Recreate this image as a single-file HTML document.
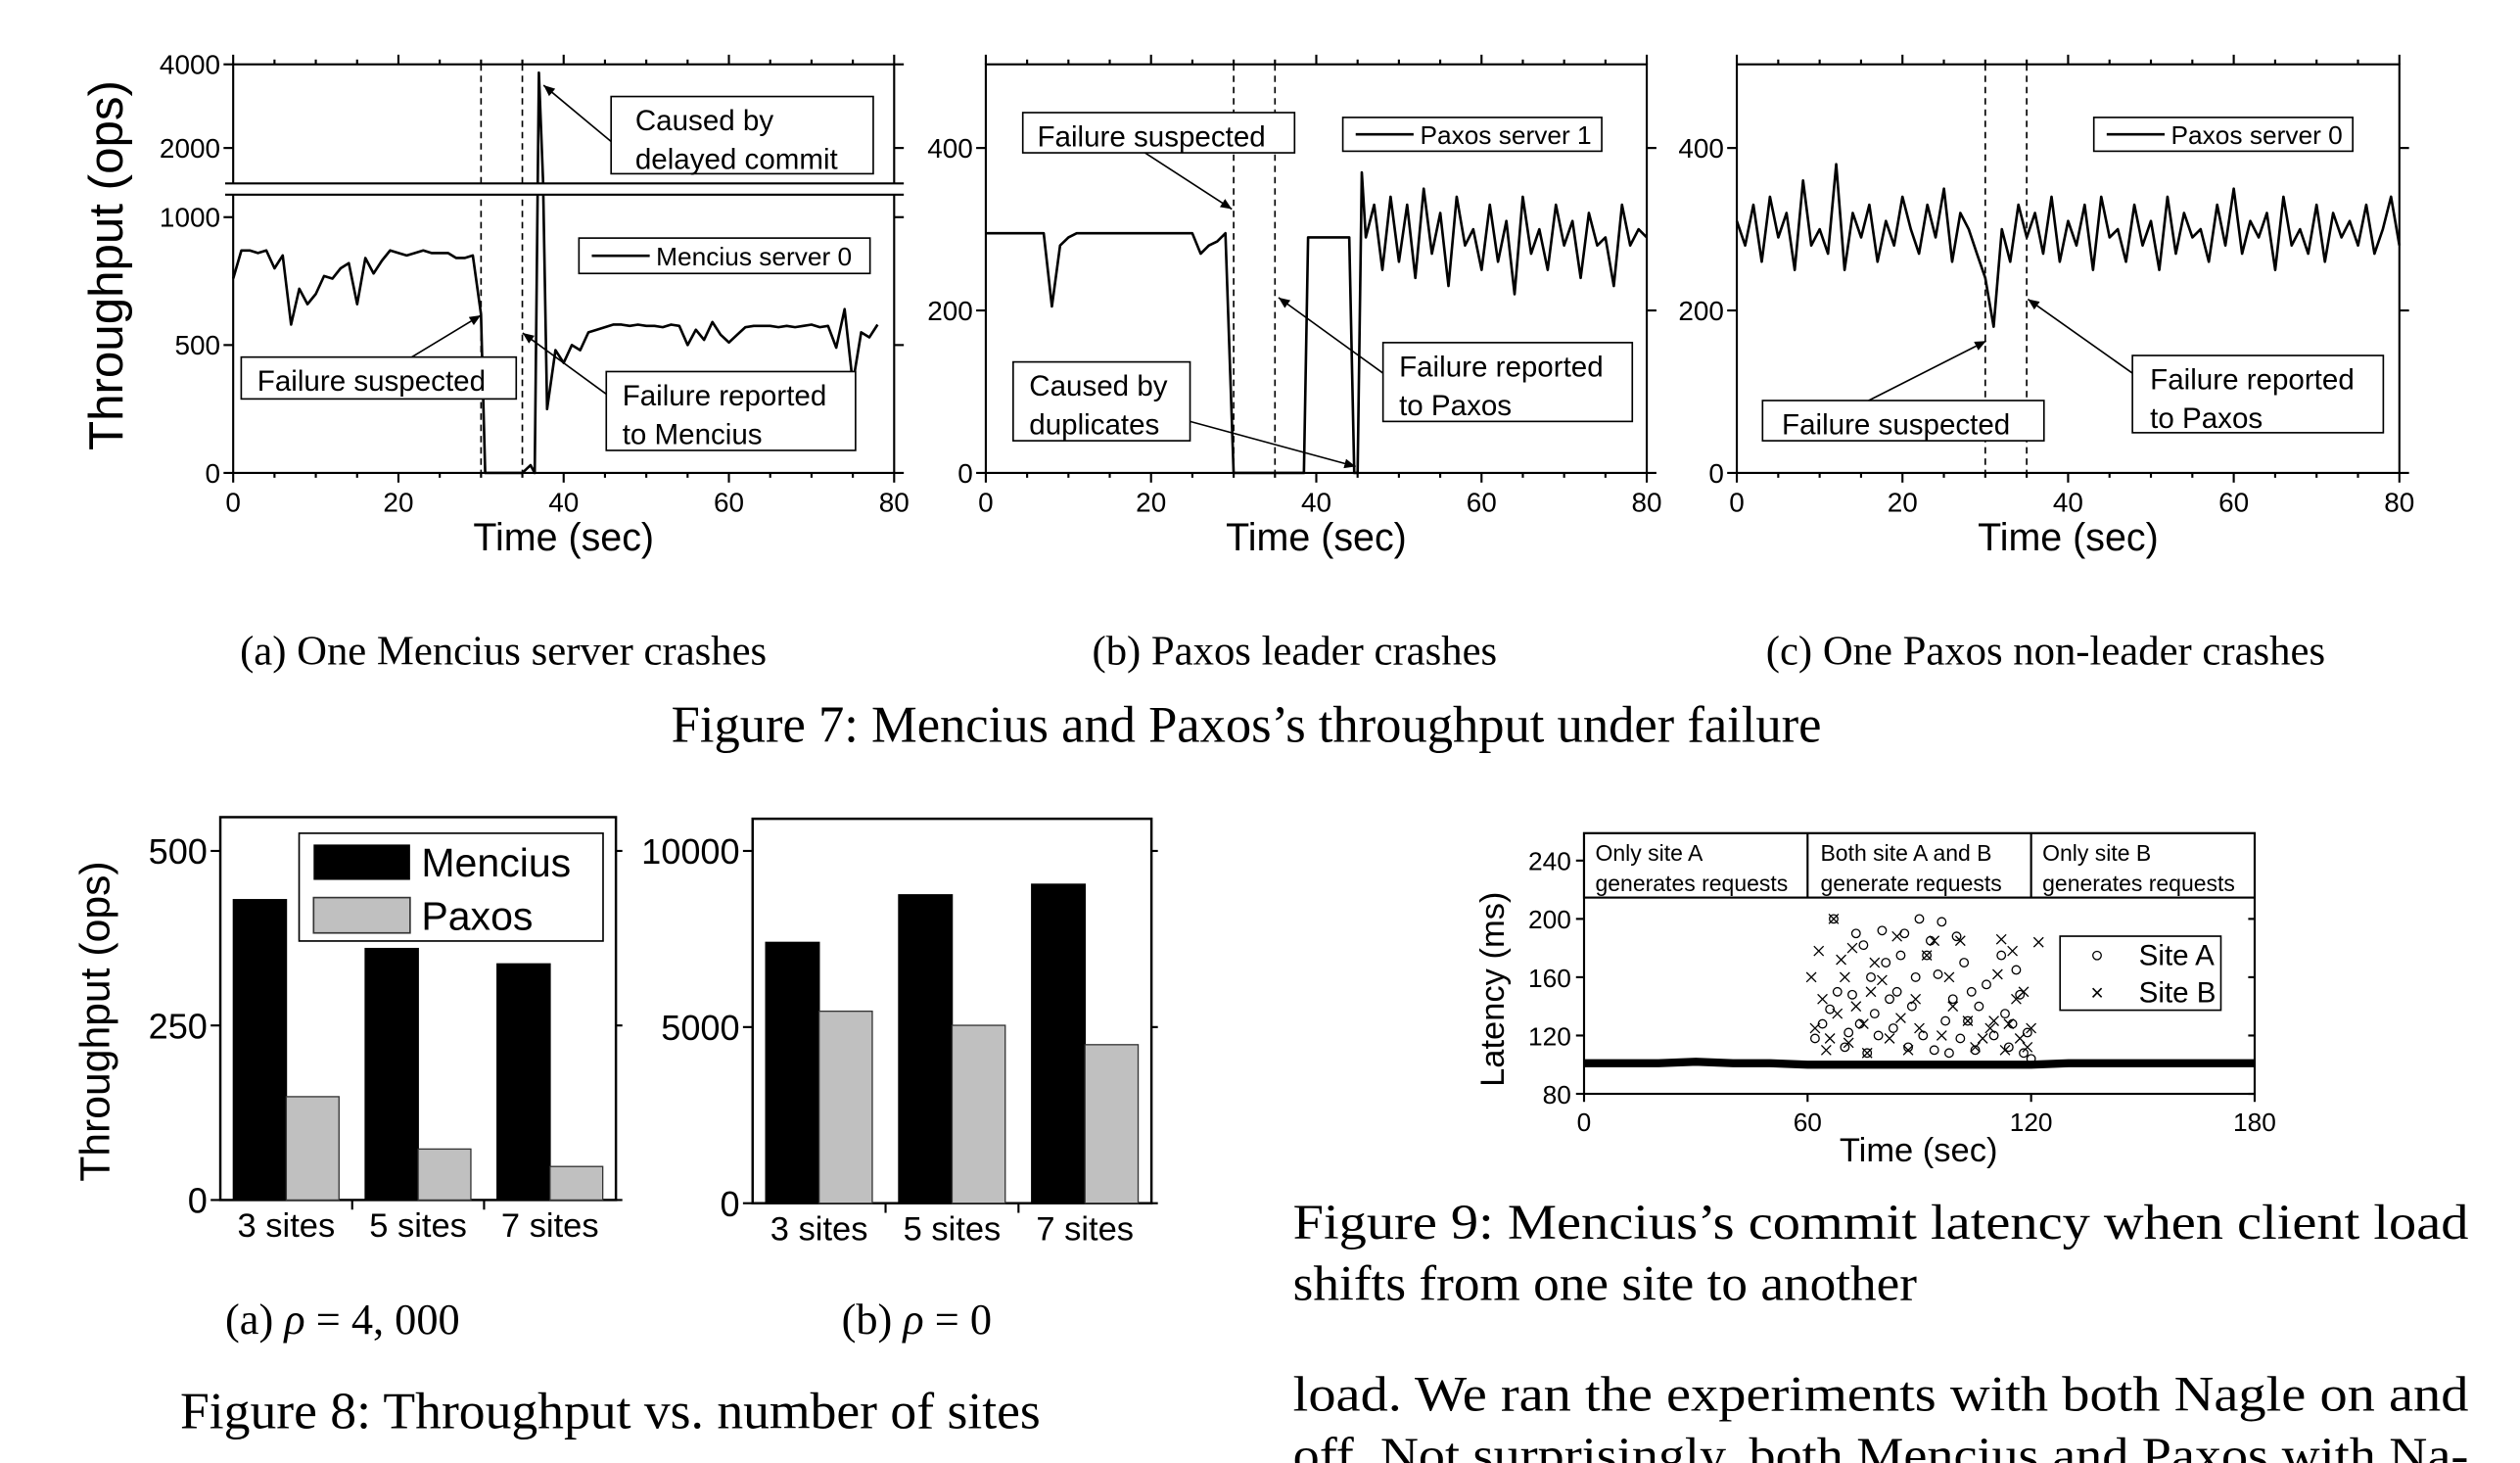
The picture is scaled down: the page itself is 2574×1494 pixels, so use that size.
<!DOCTYPE html>
<html><head><meta charset="utf-8"><style>
html,body{margin:0;padding:0;background:#fff;}
svg{display:block;}
.t{font-family:"Liberation Sans",sans-serif;fill:#000;}
.s{font-family:"Liberation Serif",serif;fill:#000;}
</style></head><body>
<svg id="root" xmlns="http://www.w3.org/2000/svg" width="2574" height="1494" viewBox="0 0 1567 909.5" preserveAspectRatio="none">
<defs><marker id="ah" markerWidth="8" markerHeight="8" refX="7" refY="4" orient="auto"><path d="M0,1 L7,4 L0,7 z" fill="#000"/></marker></defs>
<g id="g"></g>
<text class="s" x="313" y="413" font-size="26" text-anchor="middle">(a) One Mencius server crashes</text>
<text class="s" x="805" y="413" font-size="26" text-anchor="middle">(b) Paxos leader crashes</text>
<text class="s" x="1272" y="413" font-size="26" text-anchor="middle">(c) One Paxos non-leader crashes</text>
<text class="s" x="775" y="461" font-size="32" text-anchor="middle">Figure 7: Mencius and Paxos’s throughput under failure</text>
<text class="s" x="213" y="829" font-size="27" text-anchor="middle">(a) <tspan font-style="italic">ρ</tspan> = 4, 000</text>
<text class="s" x="570" y="829" font-size="27" text-anchor="middle">(b) <tspan font-style="italic">ρ</tspan> = 0</text>
<text class="s" x="112" y="888" font-size="32" textLength="535" lengthAdjust="spacingAndGlyphs">Figure 8: Throughput vs. number of sites</text>
<text class="s" x="804" y="770" font-size="31" textLength="731" lengthAdjust="spacingAndGlyphs">Figure 9:  Mencius’s commit latency when client load</text>
<text class="s" x="804" y="808" font-size="31" textLength="388" lengthAdjust="spacingAndGlyphs">shifts from one site to another</text>
<text class="s" x="804" y="877" font-size="31" textLength="731" lengthAdjust="spacingAndGlyphs">load.  We ran the experiments with both Nagle on and</text>
<text class="s" x="804" y="915" font-size="31" textLength="731" lengthAdjust="spacingAndGlyphs">off. Not surprisingly, both Mencius and Paxos with Na-</text>
</svg>
<script>
// ---- Figure 7 data (time step 1s, 0..80) ----
const timeA=[0,1,2,3,4,5,6,7,8,9,10,11,12,13,14,15,16,17,18,19,20,21,22,23,24,25,26,27,28,29,30,30.5,31,32,33,34,35,36,36.5,37,37.5,38,39,40,41,42,43,44,45,46,47,48,49,50,51,52,53,54,55,56,57,58,59,60,61,62,63,64,65,66,67,68,69,70,71,72,73,74,75,76,77,78,79,80];
const menciusServer0=[760,870,870,860,870,800,850,580,720,660,700,770,760,800,820,660,840,780,830,870,860,850,860,870,860,860,860,840,840,850,620,0,0,0,0,0,0,30,0,3800,1200,250,480,430,500,480,550,560,570,580,580,575,580,575,575,570,580,575,500,560,520,590,540,510,540,570,575,575,575,570,575,570,575,580,570,575,490,640,350,550,530,580];
const timeB=[0,1,2,3,4,5,6,7,8,9,10,11,12,13,14,15,16,17,18,19,20,21,22,23,24,25,26,27,28,29,30,31,32,33,34,35,36,37,38,38.5,39,40,41,42,43,44,44.6,45,45.5,46,47,48,49,50,51,52,53,54,55,56,57,58,59,60,61,62,63,64,65,66,67,68,69,70,71,72,73,74,75,76,77,78,79,80];
const paxosServer1=[295,295,295,295,295,295,295,295,205,280,290,295,295,295,295,295,295,295,295,295,295,295,295,295,295,295,270,280,285,295,0,0,0,0,0,0,0,0,0,0,290,290,290,290,290,290,0,0,370,290,330,250,340,260,330,240,350,270,320,230,340,280,300,250,330,260,310,220,340,270,300,250,330,280,310,240,320,280,290,230,330,280,300,290,285];
const timeC=[0,1,2,3,4,5,6,7,8,9,10,11,12,13,14,15,16,17,18,19,20,21,22,23,24,25,26,27,28,29,30,31,32,33,34,35,36,37,38,39,40,41,42,43,44,45,46,47,48,49,50,51,52,53,54,55,56,57,58,59,60,61,62,63,64,65,66,67,68,69,70,71,72,73,74,75,76,77,78,79,80];
const paxosServer0=[310,280,330,260,340,290,320,250,360,280,300,270,380,250,320,290,330,260,310,280,340,300,270,330,290,350,260,320,300,270,240,180,300,260,330,290,320,270,340,260,310,280,330,250,340,290,300,260,330,280,310,250,340,270,320,290,300,260,330,280,350,270,310,290,320,250,340,280,300,270,330,260,320,290,310,280,330,270,300,340,280];
// ---- Figure 8 data ----
const siteCategories=["3 sites","5 sites","7 sites"];
const menciusRho4000=[430,360,338];
const paxosRho4000=[148,73,48];
const menciusRho0=[7400,8750,9050];
const paxosRho0=[5450,5050,4500];
const ticks8a=[0,250,500];
const ticks8b=[0,5000,10000];
// ---- Figure 9 data ----
const baselineTime=[0,10,20,30,40,50,60,70,80,90,100,110,120,130,140,150,160,170,180];
const baselineLatency=[101,101,101,102,101,101,100,100,100,100,100,100,100,101,101,101,101,101,101];
const siteATime=[62,64,66,67,68,70,71,72,73,74,75,76,77,78,79,80,81,82,83,84,85,86,87,88,89,90,91,92,93,94,95,96,97,98,99,100,101,102,103,104,105,106,108,110,112,113,114,115,116,117,118,119,120];
const siteALatency=[118,128,138,200,150,112,122,148,190,128,182,108,160,135,120,192,170,145,125,150,175,190,112,140,160,200,120,175,185,110,162,198,130,108,145,188,118,170,130,150,110,140,155,120,175,135,112,128,165,148,108,122,104];
const siteBTime=[61,62,63,64,65,66,67,68,69,70,71,72,73,75,76,77,78,80,82,84,85,87,89,90,92,94,96,98,99,101,103,105,107,109,110,111,112,113,114,115,116,117,118,119,120,122];
const siteBLatency=[160,125,178,145,110,118,200,135,172,160,115,180,140,128,108,150,170,158,118,188,132,110,145,125,175,185,120,160,140,185,130,112,118,125,130,162,186,110,128,178,145,118,150,112,125,184];

const NS="http://www.w3.org/2000/svg";
const G=document.getElementById('g');
function el(tag,attrs,parent,txt){const e=document.createElementNS(NS,tag);for(const k in attrs)e.setAttribute(k,attrs[k]);if(txt!==undefined)e.textContent=txt;(parent||G).appendChild(e);return e;}
function line(x1,y1,x2,y2,p,extra){const o={x1:x1,y1:y1,x2:x2,y2:y2,stroke:'#000','stroke-width':1.3};Object.assign(o,extra||{});return el('line',o,p);}

function fig7Panel(name,x0,x1,yTop,yBot,yFn,yTicks,times,vals){
  const g=el('g',{});
  
  
  const xf=t=>x0+(x1-x0)*t/80;
  el('rect',{x:x0,y:yTop,width:x1-x0,height:yBot-yTop,fill:'none',stroke:'#000','stroke-width':1.3},g);
  for(let t=0;t<=80;t+=5){const X=xf(t);const major=t%20===0;
    line(X,yBot,X,yBot+(major?6:3),g);line(X,yTop,X,yTop-(major?6:3),g);
    if(major){const lb=el('text',{class:'t',x:X,y:yBot+24,'font-size':17,'text-anchor':'middle'},g,String(t));
      }}
  yTicks.forEach(v=>{const Y=yFn(v);line(x0-6,Y,x0,Y,g);line(x1,Y,x1+6,Y,g);
    const lb=el('text',{class:'t',x:x0-8,y:Y+6,'font-size':17,'text-anchor':'end'},g,String(v));
    });
  [30,35].forEach(t=>{const d=line(xf(t),yTop,xf(t),yBot,g,{'stroke-width':1,'stroke-dasharray':'4,3'});
    });
  const pts=times.map((t,i)=>xf(t).toFixed(1)+','+yFn(vals[i]).toFixed(1)).join(' ');
  const pl=el('polyline',{points:pts,fill:'none',stroke:'#000','stroke-width':1.6,'stroke-linejoin':'round'},g);
  
  const xt=el('text',{class:'t',x:(x0+x1)/2,y:yBot+48,'font-size':24,'text-anchor':'middle'},g,'Time (sec)');
  
  return g;
}
function box(g,name,x,y,w,h,lines,fs,lx){
  const b=el('g',{},g);
  
  
  el('rect',{x:x,y:y,width:w,height:h,fill:'#fff',stroke:'#000','stroke-width':1},b);
  lines.forEach((s,i)=>el('text',{class:'t',x:lx||x+15,y:y+fs+3+i*(fs+6),'font-size':fs},b,s));
}
function arrow(g,x1,y1,x2,y2){const a=line(x1,y1,x2,y2,g,{'stroke-width':1,'marker-end':'url(#ah)'});
  }
function legendLine(g,name,x,y,w,h,label){
  const b=el('g',{},g);
  
  
  el('rect',{x:x,y:y,width:w,height:h,fill:'#fff',stroke:'#000','stroke-width':1},b);
  line(x+8,y+h/2,x+44,y+h/2,b,{'stroke-width':1.6});
  el('text',{class:'t',x:x+48,y:y+h/2+6,'font-size':16},b,label);
}

const yA=v=> v<=1100 ? 294-(v/1000)*(294-135) : 40+(4000-v)*0.026;
const gA=fig7Panel('chart-7a-mencius-crash',145,556,40,294,yA,[0,500,1000,2000,4000],timeA,menciusServer0);
el('rect',{x:135,y:114,width:430,height:7,fill:'#fff'},gA);
line(140,114,562,114,gA);line(140,121,562,121,gA);
const ya=el('text',{class:'t','font-size':30,'text-anchor':'middle',transform:'translate(76,165) rotate(-90)'},gA,'Throughput (ops)');

box(gA,'annotation-delayed-commit',380,60,163,48,['Caused by','delayed commit'],18);
arrow(gA,380,88,338,53);
legendLine(gA,'legend-mencius-server-0',360,148,181,22,'Mencius server 0');
box(gA,'annotation-failure-suspected',150,222,171,26,['Failure suspected'],18,160);
arrow(gA,256,222,299,196);
box(gA,'annotation-failure-reported',377,231,155,49,['Failure reported','to Mencius'],18,387);
arrow(gA,377,245,325,207);

const yB=v=>294-v*(294-92)/400;
const gB=fig7Panel('chart-7b-paxos-leader-crash',613,1024,40,294,yB,[0,200,400],timeB,paxosServer1);
box(gB,'annotation-failure-suspected',636,70,169,25,['Failure suspected'],18,645);
arrow(gB,712,95,766,130);
legendLine(gB,'legend-paxos-server-1',835,73,161,21,'Paxos server 1');
box(gB,'annotation-duplicates',630,225,110,49,['Caused by','duplicates'],18,640);
arrow(gB,740,262,843,290);
box(gB,'annotation-failure-reported',860,213,155,49,['Failure reported','to Paxos'],18,870);
arrow(gB,860,232,795,185);

const gC=fig7Panel('chart-7c-paxos-nonleader-crash',1080,1492,40,294,yB,[0,200,400],timeC,paxosServer0);
legendLine(gC,'legend-paxos-server-0',1302,73,161,21,'Paxos server 0');
box(gC,'annotation-failure-suspected',1096,249,175,25,['Failure suspected'],18,1108);
arrow(gC,1162,249,1235,212);
box(gC,'annotation-failure-reported',1326,221,156,48,['Failure reported','to Paxos'],18,1337);
arrow(gC,1326,232,1261,186);

function fig8Panel(name,x0,x1,yTop,y0,maxV,pxMax,ticks,m,p,legend){
  const g=el('g',{});
  
  
  const yf=v=>y0-v*pxMax/maxV;
  el('rect',{x:x0,y:yTop,width:x1-x0,height:y0-yTop,fill:'none',stroke:'#000','stroke-width':1.5},g);
  ticks.forEach(v=>{const Y=yf(v);line(x0-6,Y,x0,Y,g);line(x1,Y,x1+4,Y,g);
    const lb=el('text',{class:'t',x:x0-8,y:Y+8,'font-size':22,'text-anchor':'end'},g,String(v));
    });
  const gw=(x1-x0)/siteCategories.length;
  siteCategories.forEach((c,i)=>{
    const cx=x0+gw*i+gw/2, bw=gw*0.4;
    const b1=el('rect',{x:cx-bw,y:yf(m[i]),width:bw,height:y0-yf(m[i]),fill:'#000',stroke:'#000'},g);
    
    const b2=el('rect',{x:cx,y:yf(p[i]),width:bw,height:y0-yf(p[i]),fill:'#c0c0c0',stroke:'#333','stroke-width':0.8},g);
    
    if(i>0)line(x0+gw*i,y0,x0+gw*i,y0+6,g);
    const lb=el('text',{class:'t',x:cx,y:y0+23,'font-size':21,'text-anchor':'middle'},g,c);
    
  });
  if(legend){const lg=el('g',{},g);
    
    
    el('rect',{x:186,y:518,width:189,height:67,fill:'#fff',stroke:'#000'},lg);
    el('rect',{x:195,y:525,width:60,height:22,fill:'#000'},lg);
    el('rect',{x:195,y:558,width:60,height:22,fill:'#c0c0c0',stroke:'#333'},lg);
    el('text',{class:'t',x:262,y:545,'font-size':25},lg,'Mencius');
    el('text',{class:'t',x:262,y:578,'font-size':25},lg,'Paxos');}
  return g;
}
const g8a=fig8Panel('chart-8a-rho-4000',137,383,508,746,500,217,ticks8a,menciusRho4000,paxosRho4000,true);
const y8=el('text',{class:'t','font-size':26,'text-anchor':'middle',transform:'translate(68,635) rotate(-90)'},g8a,'Throughput (ops)');

fig8Panel('chart-8b-rho-0',468,716,509,748,10000,219,ticks8b,menciusRho0,paxosRho0,false);

(function(){
  const g=el('g',{});
  
  
  const x0=985,x1=1402,yTop=518,y80=680;
  const xf=t=>x0+(x1-x0)*t/180, yf=v=>y80-(v-80)*(680-535)/160;
  el('rect',{x:x0,y:yTop,width:x1-x0,height:y80-yTop,fill:'none',stroke:'#000','stroke-width':1.3},g);
  [80,120,160,200,240].forEach(v=>{const Y=yf(v);line(x0-5,Y,x0,Y,g);line(x1,Y,x1-4,Y,g);
    const lb=el('text',{class:'t',x:x0-8,y:Y+6,'font-size':16,'text-anchor':'end'},g,String(v));
    });
  [0,60,120,180].forEach(t=>{const X=xf(t);line(X,y80,X,y80+5,g);
    const lb=el('text',{class:'t',x:X,y:y80+23,'font-size':16,'text-anchor':'middle'},g,String(t));
    });
  const bp=baselineTime.map((t,i)=>xf(t)+','+yf(baselineLatency[i])).join(' ');
  const bl=el('polyline',{points:bp,fill:'none',stroke:'#000','stroke-width':5},g);
  
  siteATime.forEach((t,i)=>{const c=el('circle',{cx:xf(t),cy:yf(siteALatency[i]),r:2.6,fill:'none',stroke:'#000','stroke-width':0.8},g);
    });
  siteBTime.forEach((t,i)=>{const X=xf(t),Y=yf(siteBLatency[i]);
    const p=el('path',{d:`M${X-3},${Y-3}L${X+3},${Y+3}M${X-3},${Y+3}L${X+3},${Y-3}`,stroke:'#000','stroke-width':0.8},g);
    });
  const hy=558;
  el('rect',{x:x0,y:yTop,width:x1-x0,height:hy-yTop,fill:'#fff',stroke:'#000','stroke-width':1.3},g);
  line(xf(60),yTop,xf(60),hy,g);line(xf(120),yTop,xf(120),hy,g);
  [['Only site A','generates requests',x0+7],['Both site A and B','generate requests',xf(60)+8],['Only site B','generates requests',xf(120)+7]].forEach(h=>{
    const tg=el('g',{},g);
    
    
    el('text',{class:'t',x:h[2],y:535,'font-size':14},tg,h[0]);
    el('text',{class:'t',x:h[2],y:554,'font-size':14},tg,h[1]);});
  const lg=el('g',{},g);
  
  
  el('rect',{x:1281,y:582,width:100,height:46,fill:'#fff',stroke:'#000'},lg);
  el('circle',{cx:1304,cy:594,r:2.6,fill:'none',stroke:'#000','stroke-width':0.8},lg);
  el('text',{class:'t',x:1300,y:622,'font-size':14},lg,'×');
  el('text',{class:'t',x:1330,y:600,'font-size':18},lg,'Site A');
  el('text',{class:'t',x:1330,y:623,'font-size':18},lg,'Site B');
  const yt=el('text',{class:'t','font-size':21,'text-anchor':'middle',transform:'translate(935,615) rotate(-90)'},g,'Latency (ms)');
  
  const xt=el('text',{class:'t',x:1193,y:722,'font-size':21,'text-anchor':'middle'},g,'Time (sec)');
  
})();
</script>
</body></html>
